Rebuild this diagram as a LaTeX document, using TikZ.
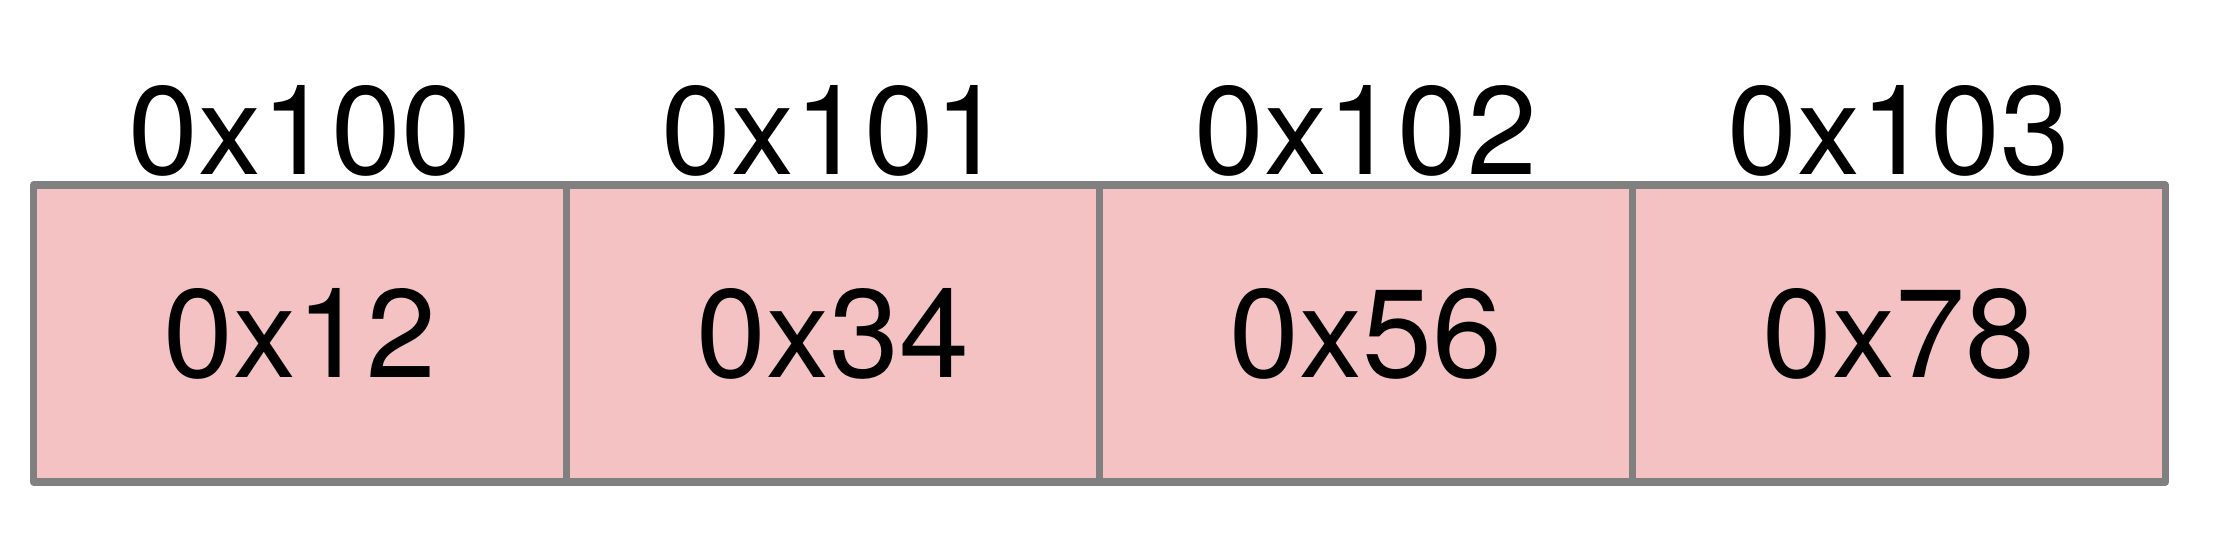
\documentclass[tikz,border=0pt]{standalone}
\usepackage{fontspec}
\setmainfont{TeX Gyre Heros}
\definecolor{cellfill}{RGB}{244,194,194}
\definecolor{cellline}{RGB}{128,128,128}
\begin{document}
\begin{tikzpicture}[x=0.5pt,y=-0.5pt,
  cell/.style={draw=cellline, fill=cellfill, line width=3.6pt, line join=round,
    minimum width=266.5pt, minimum height=148.5pt, inner sep=0pt, outer sep=0pt,
    font=\fontsize{62.8}{70}\selectfont},
  addr/.style={anchor=base, inner sep=0pt, outer sep=0pt,
    font=\fontsize{62.8}{70}\selectfont}]
\useasboundingbox (0,0) rectangle (2236,550);
\node[cell] (c0) at (300,333.5) {0x12};
\node[cell] (c1) at (833,333.5) {0x34};
\node[cell] (c2) at (1366,333.5) {0x56};
\node[cell] (c3) at (1899,333.5) {0x78};
\node[addr] (a0) at ([yshift=5pt]c0.north) {0x100};
\node[addr] (a1) at ([yshift=5pt]c1.north) {0x101};
\node[addr] (a2) at ([yshift=5pt]c2.north) {0x102};
\node[addr] (a3) at ([yshift=5pt]c3.north) {0x103};
\end{tikzpicture}
\end{document}
